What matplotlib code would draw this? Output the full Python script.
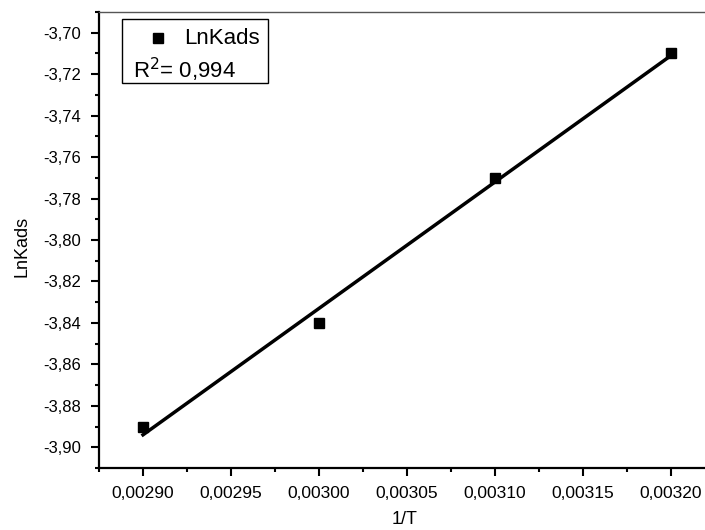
import numpy as np
import matplotlib
matplotlib.use("Agg")
import matplotlib.pyplot as plt
from matplotlib.ticker import FuncFormatter, MultipleLocator
from matplotlib.patches import Rectangle

plt.rcParams['font.family'] = ['Liberation Sans', 'DejaVu Sans']

inv_T = [0.00290, 0.00300, 0.00310, 0.00320]
ln_kads = [-3.89, -3.84, -3.77, -3.71]
r2_text = "0,994"

W, H = 705, 530


def fx(px):
    return px / W


def fy(py):
    return 1 - py / H


fig = plt.figure(figsize=(7.05, 5.30), dpi=100)
ax = fig.add_axes([fx(99), fy(468), 616 / W, 456 / H])

x = np.array(inv_T)
y = np.array(ln_kads)
slope, icpt = np.polyfit(x, y, 1)
ax.plot(x, slope * x + icpt, color='black', lw=2.5, zorder=2)
ax.plot(x, y, 's', color='black', ms=6.5, zorder=3)

ax.set_xlim(0.002875, 0.003225)
ax.set_ylim(-3.91, -3.69)
ax.xaxis.set_major_locator(MultipleLocator(0.00005))
ax.xaxis.set_minor_locator(MultipleLocator(0.000025))
ax.yaxis.set_major_locator(MultipleLocator(0.02))
ax.yaxis.set_minor_locator(MultipleLocator(0.01))
ax.xaxis.set_major_formatter(FuncFormatter(lambda v, p: ("%.5f" % v).replace('.', ',')))
ax.yaxis.set_major_formatter(FuncFormatter(lambda v, p: ("%.2f" % v).replace('.', ',')))

ax.tick_params(which='major', direction='out', length=6, width=1.5, pad=7)
ax.tick_params(which='minor', direction='out', length=3, width=1.5)
ax.tick_params(axis='x', labelsize=12.5)
ax.tick_params(axis='y', labelsize=12)
ax.tick_params(top=False, right=False)
for s in ['left', 'bottom']:
    ax.spines[s].set_linewidth(1.6)
ax.spines['top'].set_color('#555555')
ax.spines['top'].set_linewidth(1.0)
ax.spines['right'].set_visible(False)

ax.set_xlabel('1/T', fontsize=13)
ax.set_ylabel('LnKads', fontsize=13)
ax.xaxis.set_label_coords((405 - 99) / 616, -(511 - 468) / 456)
ax.yaxis.set_label_coords(-(99 - 31) / 616, (468 - 246) / 456)

# legend box
fig.patches.append(Rectangle((fx(122), fy(83)), (268 - 122) / W, (83 - 19) / H,
                             transform=fig.transFigure, fill=False, ec='black', lw=1.0))
fig.lines.append(plt.Line2D([fx(158)], [fy(38)], marker='s', color='black', ms=6.5,
                            transform=fig.transFigure))
fig.text(fx(184), fy(38), 'LnKads', fontsize=16, va='center', ha='left')
fig.text(fx(133), fy(70), 'R$^2$= ' + r2_text, fontsize=16, va='center', ha='left')

fig.savefig('out.png', dpi=100)
